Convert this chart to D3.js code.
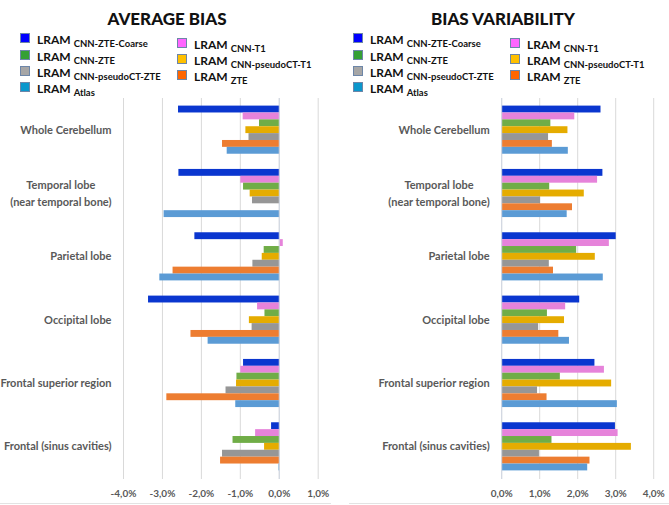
<!DOCTYPE html>
<html><head><meta charset="utf-8">
<script src="https://cdn.jsdelivr.net/npm/d3@7"></script>
<style>
body{margin:0;background:#fff;}
svg{display:block;font-family:Lato,"Open Sans",sans-serif;}
</style></head>
<body>
<svg id="c" width="669" height="505"></svg>
<script>
const categories = ["Whole Cerebellum", "Temporal lobe\n(near temporal bone)", "Parietal lobe", "Occipital lobe", "Frontal superior region", "Frontal (sinus cavities)"];
const seriesNames = ["CNN-ZTE-Coarse", "CNN-T1", "CNN-ZTE", "CNN-pseudoCT-T1", "CNN-pseudoCT-ZTE", "ZTE", "Atlas"];
const barColors = ["#0a36cf", "#e683da", "#70ad47", "#e5ac00", "#969696", "#ed7d31", "#5b9bd5"];
const legendColors = ["#0000ff", "#ff66ff", "#35a035", "#ffc000", "#a6a6a6", "#ff6600", "#0b97cc"];
// values per series (in %), category order as above
const avgBias = {
  "CNN-ZTE-Coarse":   [-2.60, -2.59, -2.18, -3.37, -0.93, -0.21],
  "CNN-T1":           [-0.94, -1.00,  0.09, -0.57, -1.00, -0.62],
  "CNN-ZTE":          [-0.52, -0.93, -0.40, -0.38, -1.10, -1.20],
  "CNN-pseudoCT-T1":  [-0.87, -0.76, -0.45, -0.78, -1.11, -0.39],
  "CNN-pseudoCT-ZTE": [-0.79, -0.70, -0.69, -0.71, -1.38, -1.47],
  "ZTE":              [-1.47,  0.00, -2.74, -2.28, -2.90, -1.52],
  "Atlas":            [-1.35, -2.97, -3.08, -1.84, -1.13, -0.02]
};
const biasVar = {
  "CNN-ZTE-Coarse":   [2.60, 2.65, 3.00, 2.04, 2.44, 2.98],
  "CNN-T1":           [1.91, 2.51, 2.82, 1.67, 2.69, 3.05],
  "CNN-ZTE":          [1.28, 1.25, 1.96, 1.19, 1.53, 1.31],
  "CNN-pseudoCT-T1":  [1.73, 2.16, 2.45, 1.64, 2.88, 3.40],
  "CNN-pseudoCT-ZTE": [1.22, 1.01, 1.24, 0.96, 0.93, 0.98],
  "ZTE":              [1.32, 1.85, 1.35, 1.49, 1.18, 2.31],
  "Atlas":            [1.74, 1.71, 2.66, 1.77, 3.03, 2.25]
};
const avgTicks = [-4, -3, -2, -1, 0, 1];
const varTicks = [0, 1, 2, 3, 4];
const legendCol1 = ["CNN-ZTE-Coarse", "CNN-ZTE", "CNN-pseudoCT-ZTE", "Atlas"];
const legendCol2 = ["CNN-T1", "CNN-pseudoCT-T1", "ZTE"];

const svg = d3.select("#c");
const fmt = v => v.toFixed(1).replace(".", ",") + "%";

function panel(ox, title, titleX, data, domain, range, ticks) {
  const g = svg.append("g");
  // title
  g.append("text").attr("x", titleX).attr("y", 25).attr("text-anchor", "middle")
    .attr("font-size", 17).attr("font-weight", 900).attr("fill", "#111").text(title);
  // legend
  const legendRow = (name, x, y) => {
    const i = seriesNames.indexOf(name);
    g.append("rect").attr("x", x + 0.5).attr("y", y + 0.5).attr("width", 9).attr("height", 9)
      .attr("fill", legendColors[i]).attr("stroke", "#6d86a8").attr("stroke-width", 1);
    const t = g.append("text").attr("x", x + 17).attr("y", y + 11).attr("fill", "#111")
      .attr("font-weight", 700);
    t.append("tspan").attr("font-size", 12).text("LRAM");
    t.append("tspan").attr("font-size", 9.5).attr("dx", 3).attr("dy", 3).text(name);
  };
  const c1y = [33, 50, 66, 82], c2y = [38, 54, 70];
  legendCol1.forEach((n, k) => legendRow(n, ox + 20, c1y[k]));
  legendCol2.forEach((n, k) => legendRow(n, ox + 177, c2y[k]));

  const x = d3.scaleLinear().domain(domain).range(range);
  const y = d3.scaleBand().domain(categories).range([98, 478]).paddingInner(0.24).paddingOuter(0.12);
  const ys = d3.scaleBand().domain(seriesNames).range([0, y.bandwidth()]).padding(0);

  // gridlines
  g.append("g").selectAll("line").data(ticks).join("line")
    .attr("x1", d => x(d)).attr("x2", d => x(d)).attr("y1", 98).attr("y2", 479)
    .attr("stroke", "#d9d9d9").attr("stroke-width", 1);

  // bars
  categories.forEach((cat, ci) => {
    g.append("g").selectAll("rect").data(seriesNames).join("rect")
      .attr("x", s => x(Math.min(0, data[s][ci])))
      .attr("width", s => Math.abs(x(data[s][ci]) - x(0)))
      .attr("y", s => y(cat) + ys(s))
      .attr("height", ys.bandwidth())
      .attr("fill", (s, i) => barColors[i]);
  });
  // axis line at zero
  g.append("line").attr("x1", x(0)).attr("x2", x(0)).attr("y1", 98).attr("y2", 479)
    .attr("stroke", "#d0d7e3").attr("stroke-width", 1);

  // x tick labels
  g.append("g").selectAll("text").data(ticks).join("text")
    .attr("x", d => x(d)).attr("y", 497).attr("text-anchor", "middle")
    .attr("font-size", 10).attr("font-weight", 700).attr("fill", "#595959").text(fmt);

  // category labels
  const lx = range[0] - 12;
  categories.forEach(cat => {
    const lines = cat.split("\n");
    const cy = y(cat) + y.bandwidth() / 2;
    const lh = 17;
    const t = g.append("text").attr("font-size", 11).attr("font-weight", 700).attr("fill", "#595959");
    const spans = lines.map((ln, k) => t.append("tspan").text(ln)
      .attr("y", cy + 4 + (k - (lines.length - 1) / 2) * lh));
    const widths = spans.map(s => s.node().getComputedTextLength());
    const maxW = d3.max(widths);
    spans.forEach((s, k) => s.attr("x", lx - maxW + (maxW - widths[k]) / 2));
  });
  return g;
}

panel(0, "AVERAGE BIAS", 167, avgBias, [-4, 1], [123.5, 318.2], avgTicks);
panel(333, "BIAS VARIABILITY", 503, biasVar, [0, 4], [501.7, 653.7], varTicks);

svg.append("line").attr("x1", 0).attr("x2", 331).attr("y1", 503.5).attr("y2", 503.5).attr("stroke", "#e3e3e3");
svg.append("line").attr("x1", 349).attr("x2", 669).attr("y1", 503.5).attr("y2", 503.5).attr("stroke", "#e3e3e3");
</script>
</body></html>
